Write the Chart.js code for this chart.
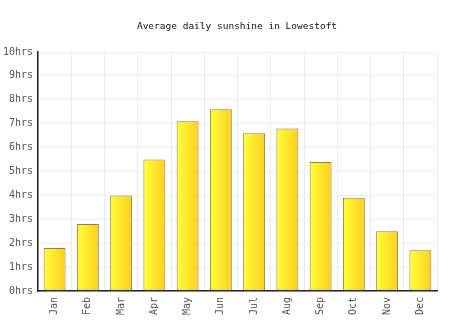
<!DOCTYPE html>
<html>
<head>
<meta charset="utf-8">
<script src="https://cdn.jsdelivr.net/npm/chart.js@4/dist/chart.umd.min.js"></script>
<style>
  html, body { margin: 0; padding: 0; background: #fff; }
  #wrap { width: 474px; height: 331px; }
</style>
</head>
<body>
<div id="wrap"><canvas id="sun"></canvas></div>
<script>
// monthly values
const months = ["Jan", "Feb", "Mar", "Apr", "May", "Jun", "Jul", "Aug", "Sep", "Oct", "Nov", "Dec"];
const sunHours = [1.8, 2.8, 4.0, 5.5, 7.1, 7.6, 6.6, 6.8, 5.4, 3.9, 2.5, 1.7];
const yMax = 10;
const titleText = "Average daily sunshine in Lowestoft";

const BAR_PCT = 0.66;
const FONT = "'DejaVu Sans Mono', 'Liberation Mono', monospace";

// horizontal yellow gradient across each bar
function barFill(ctx) {
    const chart = ctx.chart;
    const x = chart.scales.x;
    if (!x || ctx.dataIndex === undefined) return "#ffe433";
    const cx = x.getPixelForValue(ctx.dataIndex);
    const half = (x.width / months.length) * BAR_PCT / 2;
    if (!isFinite(cx) || !isFinite(half)) return "#ffe433";
    const g = chart.ctx.createLinearGradient(cx - half, 0, cx + half, 0);
    g.addColorStop(0, "#ffff38");
    g.addColorStop(1, "#ffcf20");
    return g;
}

// title centred on the whole canvas, not on the padded layout box
const pageTitle = {
    id: "pageTitle",
    afterDraw(chart) {
        const c = chart.ctx;
        c.save();
        c.font = "9.5px " + FONT;
        c.fillStyle = "#111";
        c.textAlign = "center";
        c.textBaseline = "middle";
        c.fillText(titleText, chart.width / 2, 27);
        c.restore();
    }
};

new Chart(document.getElementById("sun"), {
    type: "bar",
    data: {
        labels: months,
        datasets: [{
            data: sunHours,
            backgroundColor: barFill,
            borderColor: "#8f8050",
            borderWidth: 1,
            borderSkipped: false,
            barPercentage: BAR_PCT,
            categoryPercentage: 1
        }]
    },
    options: {
        responsive: true,
        maintainAspectRatio: false,
        animation: false,
        layout: { padding: { left: 0, right: 37, top: 52, bottom: 0 } },
        plugins: {
            legend: { display: false },
            tooltip: { enabled: false },
            title: { display: false }
        },
        scales: {
            x: {
                grid: { color: "#ececec", offset: true, drawTicks: false },
                border: { color: "#222", width: 1.5 },
                ticks: {
                    color: "#555",
                    font: { family: FONT, size: 10 },
                    minRotation: 90,
                    maxRotation: 90,
                    padding: 6
                },
                afterFit: s => { s.height = 40; }
            },
            y: {
                min: 0,
                max: yMax,
                grid: { color: "#ececec", drawTicks: true, tickLength: 3 },
                border: { color: "#222", width: 1.5 },
                ticks: {
                    stepSize: 1,
                    color: "#555",
                    font: { family: FONT, size: 10 },
                    padding: 2,
                    callback: v => v + "hrs"
                },
                afterFit: s => { s.width = 38; }
            }
        }
    },
    plugins: [pageTitle]
});
</script>
</body>
</html>
